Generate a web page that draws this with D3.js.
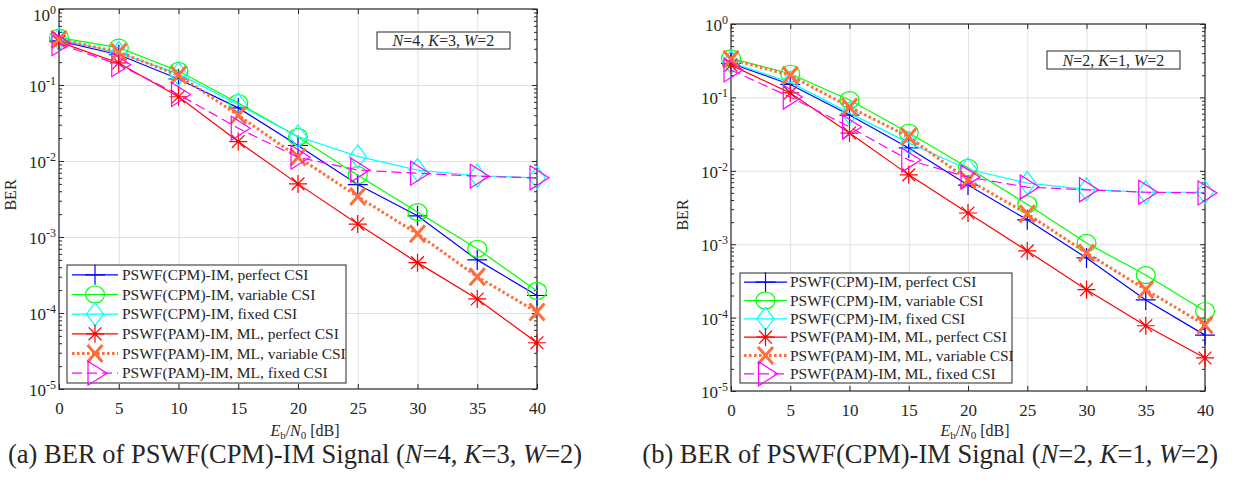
<!DOCTYPE html>
<html>
<head>
<meta charset="utf-8">
<script src="https://cdn.jsdelivr.net/npm/d3@7"></script>
<style>
    body { margin: 0; background: #fff; }
    text { font-family: "Liberation Serif", "Times New Roman", serif; fill: #262626; }
</style>
</head>
<body>
<svg id="chart" width="1234" height="482"></svg>
<script>
const snr = [0, 5, 10, 15, 20, 25, 30, 35, 40];
const xTickValues = [0, 5, 10, 15, 20, 25, 30, 35, 40];
const yTickExponents = [0, -1, -2, -3, -4, -5];

const legendLabels = [
    "PSWF(CPM)-IM, perfect CSI",
    "PSWF(CPM)-IM, variable CSI",
    "PSWF(CPM)-IM, fixed CSI",
    "PSWF(PAM)-IM, ML, perfect CSI",
    "PSWF(PAM)-IM, ML, variable CSI",
    "PSWF(PAM)-IM, ML, fixed CSI"
];

// (a) N=4, K=3, W=2
const aCpmPerfect = [0.38, 0.25, 0.12, 0.05, 0.016, 0.0049, 0.0019, 0.0005, 0.00017];
const aCpmVariable = [0.42, 0.31, 0.153, 0.058, 0.0207, 0.0065, 0.00213, 0.0007, 0.000195];
const aCpmFixed = [0.40, 0.265, 0.14, 0.055, 0.021, 0.0115, 0.0076, 0.0064, 0.006];
const aPamPerfect = [0.37, 0.195, 0.07, 0.018, 0.005, 0.00148, 0.00046, 0.000153, 0.0000406];
const aPamVariable = [0.40, 0.27, 0.135, 0.04, 0.0113, 0.0034, 0.0011, 0.0003, 0.000103];
const aPamFixed = [0.35, 0.185, 0.075, 0.027, 0.0112, 0.0076, 0.0069, 0.0063, 0.006];

// (b) N=2, K=1, W=2
const bCpmPerfect = [0.29, 0.15, 0.0575, 0.0205, 0.0064, 0.00215, 0.00065, 0.000174, 0.0000577];
const bCpmVariable = [0.34, 0.21, 0.092, 0.033, 0.011, 0.0035, 0.00104, 0.00038, 0.000123];
const bCpmFixed = [0.30, 0.16, 0.061, 0.024, 0.0105, 0.0068, 0.0056, 0.0051, 0.0051];
const bPamPerfect = [0.275, 0.115, 0.0327, 0.0088, 0.00266, 0.00081, 0.00024, 0.0000774, 0.0000282];
const bPamVariable = [0.33, 0.2, 0.074, 0.029, 0.0075, 0.0026, 0.00076, 0.00024, 0.0000795];
const bPamFixed = [0.236, 0.101, 0.0395, 0.014, 0.0082, 0.006, 0.0055, 0.0051, 0.005];

const styles = [
    { color: "#0000ff", marker: "plus", dash: null, width: 1.2, mw: 1.2 },
    { color: "#00ff00", marker: "circle", dash: null, width: 1.2, mw: 1.2 },
    { color: "#00ffff", marker: "diamond", dash: null, width: 1.2, mw: 1.2 },
    { color: "#ff0000", marker: "asterisk", dash: null, width: 1.2, mw: 1.2 },
    { color: "#ff6d3a", marker: "cross", dash: "2.5,2.5", width: 3, mw: 3 },
    { color: "#ff00ff", marker: "triangle", dash: "10,5", width: 1.2, mw: 1.2 }
];

const markerPaths = {
    plus: "M-10,0H10M0,-10V10",
    circle: "M-9.5,0A9.5,8.5 0 1,0 9.5,0A9.5,8.5 0 1,0 -9.5,0",
    diamond: "M0,-11.5L8.5,0L0,11.5L-8.5,0Z",
    asterisk: "M-9,0H9M0,-9V9M-6.4,-6.4L6.4,6.4M-6.4,6.4L6.4,-6.4",
    cross: "M-7.5,-8.5L7.5,8.5M-7.5,8.5L7.5,-8.5",
    triangle: "M-7,-12L12,0L-7,12Z"
};

const panels = [
    {
        left: 59, right: 537, top: 9, bottom: 389,
        series: [aCpmPerfect, aCpmVariable, aCpmFixed, aPamPerfect, aPamVariable, aPamFixed],
        params: ["4", "3", "2"],
        box: { x: 377, y: 32, w: 133, h: 17 },
        legend: { x: 67, y: 265, w: 279, h: 118, lineX: 72, lineW: 46, textX: 122 },
        berY: 195,
        caption: { x: 8, anchor: "start", letter: "a" }
    },
    {
        left: 731, right: 1205, top: 24, bottom: 391,
        series: [bCpmPerfect, bCpmVariable, bCpmFixed, bPamPerfect, bPamVariable, bPamFixed],
        params: ["2", "1", "2"],
        box: { x: 1047, y: 51, w: 133, h: 18 },
        legend: { x: 740, y: 273, w: 272, h: 110, lineX: 744, lineW: 43, textX: 790 },
        berY: 215,
        caption: { x: 1218, anchor: "end", letter: "b" }
    }
];

const svg = d3.select("#chart");

const minorValues = [];
for (let e = -5; e < 0; e++) {
    for (let m = 2; m <= 9; m++) minorValues.push(m * Math.pow(10, e));
}

const paramText = (sel, params) => {
    const names = ["N", "K", "W"];
    names.forEach((n, i) => {
        sel.append("tspan").attr("font-style", "italic").text(n);
        sel.append("tspan").text(`=${params[i]}` + (i < 2 ? ", " : ""));
    });
};

const drawPanel = (p) => {
    const g = svg.append("g");
    const innerHeight = p.bottom - p.top;
    const innerWidth = p.right - p.left;

    const x = d3.scaleLinear().domain([0, 40]).range([p.left, p.right]);
    const y = d3.scaleLog().domain([1e-5, 1]).range([p.bottom, p.top]);
    const yMajors = yTickExponents.map(e => Math.pow(10, e));

    // grid
    const xGrid = g.append("g")
        .attr("transform", `translate(0,${p.bottom})`)
        .call(d3.axisBottom(x).tickValues(xTickValues.slice(1, -1)).tickSize(-innerHeight).tickFormat(""));
    const yGrid = g.append("g")
        .attr("transform", `translate(${p.left},0)`)
        .call(d3.axisLeft(y).tickValues(yMajors.slice(1, -1)).tickSize(-innerWidth).tickFormat(""));
    [xGrid, yGrid].forEach(s => {
        s.select(".domain").remove();
        s.selectAll("line").attr("stroke", "#e0e0e0").attr("stroke-width", 1);
    });

    g.append("rect")
        .attr("x", p.left).attr("y", p.top)
        .attr("width", innerWidth).attr("height", innerHeight)
        .attr("fill", "none").attr("stroke", "#262626").attr("stroke-width", 1.2);

    const xAxisG = g.append("g")
        .attr("transform", `translate(0,${p.bottom})`)
        .call(d3.axisBottom(x).tickValues(xTickValues).tickSizeInner(-5).tickSizeOuter(0).tickPadding(13));
    const xTopG = g.append("g")
        .attr("transform", `translate(0,${p.top})`)
        .call(d3.axisTop(x).tickValues(xTickValues).tickSizeInner(-5).tickSizeOuter(0).tickFormat(""));

    const yAxisG = g.append("g")
        .attr("transform", `translate(${p.left},0)`)
        .call(d3.axisLeft(y).tickValues(yMajors).tickSizeInner(-5).tickSizeOuter(0).tickPadding(3));
    const yMinorG = g.append("g")
        .attr("transform", `translate(${p.left},0)`)
        .call(d3.axisLeft(y).tickValues(minorValues).tickSizeInner(-3).tickSizeOuter(0).tickFormat(""));
    const yRightG = g.append("g")
        .attr("transform", `translate(${p.right},0)`)
        .call(d3.axisRight(y).tickValues(yMajors).tickSizeInner(-5).tickSizeOuter(0).tickFormat(""));
    const yRightMinorG = g.append("g")
        .attr("transform", `translate(${p.right},0)`)
        .call(d3.axisRight(y).tickValues(minorValues).tickSizeInner(-3).tickSizeOuter(0).tickFormat(""));

    [xAxisG, xTopG, yAxisG, yMinorG, yRightG, yRightMinorG].forEach(s => {
        s.select(".domain").remove();
        s.selectAll("line").attr("stroke", "#262626");
        s.selectAll("text")
            .attr("fill", "#262626")
            .attr("font-size", 17);
    });

    yAxisG.selectAll(".tick text").each(function (d) {
        const top = d === 1 && p.top < 15;
        const t = d3.select(this).text(null).attr("dy", top ? "0.65em" : "0.38em");
        t.append("tspan").text("10");
        t.append("tspan").attr("font-size", 12).attr("dy", -7).text(Math.round(Math.log10(d)));
    });

    // series
    const line = d3.line()
        .x((d, i) => x(snr[i]))
        .y(d => y(d));

    p.series.forEach((values, k) => {
        const s = styles[k];
        g.append("path")
            .datum(values)
            .attr("d", line)
            .attr("fill", "none")
            .attr("stroke", s.color)
            .attr("stroke-width", s.width)
            .attr("stroke-dasharray", s.dash);
        g.append("g").selectAll("path")
            .data(values)
            .join("path")
            .attr("transform", (d, i) => `translate(${x(snr[i])},${y(d)})`)
            .attr("d", markerPaths[s.marker])
            .attr("fill", "none")
            .attr("stroke", s.color)
            .attr("stroke-width", s.mw);
    });

    // annotation box
    g.append("rect")
        .attr("x", p.box.x).attr("y", p.box.y)
        .attr("width", p.box.w).attr("height", p.box.h)
        .attr("fill", "#fff").attr("stroke", "#262626").attr("stroke-width", 1);
    const note = g.append("text")
        .attr("x", p.box.x + p.box.w / 2)
        .attr("y", p.box.y + p.box.h / 2 + 5.5)
        .attr("text-anchor", "middle")
        .attr("font-size", 16);
    paramText(note, p.params);

    // legend
    const lg = p.legend;
    g.append("rect")
        .attr("x", lg.x).attr("y", lg.y)
        .attr("width", lg.w).attr("height", lg.h)
        .attr("fill", "#fff").attr("stroke", "#262626").attr("stroke-width", 1);
    const rowH = lg.h / legendLabels.length;
    legendLabels.forEach((label, k) => {
        const s = styles[k];
        const cy = lg.y + (k + 0.5) * rowH;
        g.append("line")
            .attr("x1", lg.lineX).attr("x2", lg.lineX + lg.lineW)
            .attr("y1", cy).attr("y2", cy)
            .attr("stroke", s.color)
            .attr("stroke-width", s.width)
            .attr("stroke-dasharray", s.dash);
        g.append("path")
            .attr("transform", `translate(${lg.lineX + lg.lineW / 2},${cy})`)
            .attr("d", markerPaths[s.marker])
            .attr("fill", "none")
            .attr("stroke", s.color)
            .attr("stroke-width", s.mw);
        g.append("text")
            .attr("x", lg.textX)
            .attr("y", cy + 5)
            .attr("font-size", 15.5)
            .text(label);
    });

    // axis labels
    const xLabel = g.append("text")
        .attr("x", (p.left + p.right) / 2 + 7)
        .attr("y", 436)
        .attr("text-anchor", "middle")
        .attr("font-size", 16);
    xLabel.append("tspan").attr("font-style", "italic").text("E");
    xLabel.append("tspan").attr("font-size", 11).attr("dy", 3).text("b");
    xLabel.append("tspan").attr("dy", -3).text("/");
    xLabel.append("tspan").attr("font-style", "italic").text("N");
    xLabel.append("tspan").attr("font-size", 11).attr("dy", 3).text("0");
    xLabel.append("tspan").attr("dy", -3).text(" [dB]");

    g.append("text")
        .attr("transform", `translate(${p.left - 43},${p.berY}) rotate(-90)`)
        .attr("text-anchor", "middle")
        .attr("font-size", 16)
        .text("BER");

    const cap = g.append("text")
        .attr("x", p.caption.x)
        .attr("y", 463)
        .attr("text-anchor", p.caption.anchor)
        .attr("font-size", 26.5);
    cap.append("tspan").text(`(${p.caption.letter}) BER of PSWF(CPM)-IM Signal (`);
    paramText(cap, p.params);
    cap.append("tspan").text(")");
};

panels.forEach(drawPanel);
</script>
</body>
</html>
